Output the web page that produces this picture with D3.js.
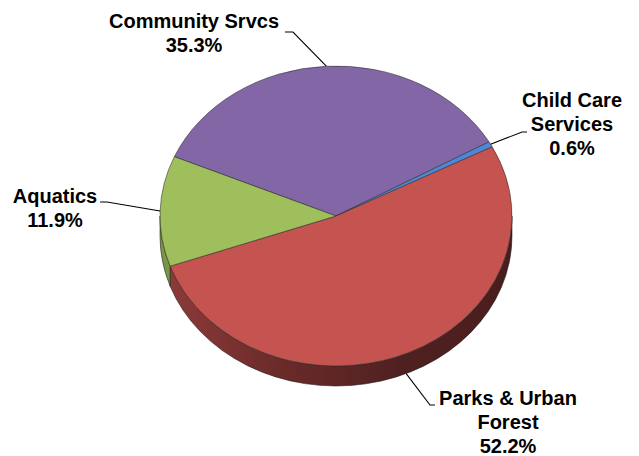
<!DOCTYPE html>
<html><head><meta charset="utf-8">
<script src="https://cdn.jsdelivr.net/npm/d3@7"></script>
<style>html,body{margin:0;padding:0;background:#fff}</style>
</head><body>
<svg id="c" width="639" height="456"></svg>
<script>
const categories = ["Community Srvcs", "Child Care Services", "Parks & Urban Forest", "Aquatics"];
const values = [35.3, 0.6, 52.2, 11.9];
const labelLines = [["Community Srvcs", "35.3%"], ["Child Care", "Services", "0.6%"], ["Parks & Urban", "Forest", "52.2%"], ["Aquatics", "11.9%"]];
const topColors = ["#8266A6", "#4F86D6", "#C5534F", "#9FBF5C"];

const W = 639, H = 456;
const cx = 336, cy = 216, rx = 176, ry = 150, depth = 20;
const k = ry / rx, dU = depth / k;
const startDeg = -66.7;

const svg = d3.select("#c");
const defs = svg.append("defs");
const gRed = defs.append("linearGradient").attr("id","sideRed").attr("gradientUnits","userSpaceOnUse")
  .attr("x1",-rx).attr("x2",rx).attr("y1",0).attr("y2",0);
gRed.append("stop").attr("offset","0").attr("stop-color","#8E3C3A");
gRed.append("stop").attr("offset","0.35").attr("stop-color","#6A2A29");
gRed.append("stop").attr("offset","0.7").attr("stop-color","#4F2020");
gRed.append("stop").attr("offset","1").attr("stop-color","#4A1D1D");
const gGreen = defs.append("linearGradient").attr("id","sideGreen").attr("gradientUnits","userSpaceOnUse")
  .attr("x1",-rx).attr("x2",rx).attr("y1",0).attr("y2",0);
gGreen.append("stop").attr("offset","0").attr("stop-color","#7A9844");
gGreen.append("stop").attr("offset","1").attr("stop-color","#4A5E28");
const sideFill = ["#5a4470", "#2f5285", "url(#sideRed)", "url(#sideGreen)"];

const pie = d3.pie().sort(null)
  .startAngle(startDeg * Math.PI/180).endAngle(startDeg * Math.PI/180 + 2*Math.PI);
const arcs = pie(values);
const arc = d3.arc().innerRadius(0).outerRadius(rx);

const g = svg.append("g").attr("transform", `translate(${cx},${cy}) scale(1,${k})`);

function pt(a, r, dy) { return [r*Math.sin(a), -r*Math.cos(a) + (dy||0)]; }
// sides: front half in d3 angles [PI/2, 3PI/2]
arcs.forEach((d, i) => {
  const a1 = Math.max(d.startAngle, Math.PI/2), a2 = Math.min(d.endAngle, 3*Math.PI/2);
  if (a2 <= a1) return;
  const p1 = pt(a1, rx), p2 = pt(a2, rx);
  const large = (a2 - a1) > Math.PI ? 1 : 0;
  const p = `M${p1[0]},${p1[1]} A${rx},${rx} 0 ${large} 1 ${p2[0]},${p2[1]} L${p2[0]},${p2[1]+dU} A${rx},${rx} 0 ${large} 0 ${p1[0]},${p1[1]+dU} Z`;
  g.append("path").attr("d", p).attr("fill", sideFill[i])
    .attr("stroke", "#1a1a1a").attr("stroke-width", 0.7).attr("stroke-opacity", 0.8)
    .attr("vector-effect", "non-scaling-stroke");
});
// tops
g.selectAll("path.top").data(arcs).enter().append("path").attr("class","top")
  .attr("d", arc).attr("fill", (d,i) => topColors[i])
  .attr("stroke", "#2a2a2a").attr("stroke-width", 0.7).attr("stroke-opacity", 0.8)
  .attr("vector-effect", "non-scaling-stroke");

// labels
const labelCfg = [
  {x: 194, y: 28, elbow: [293, 32], end: [285, 32], useDepth: false},
  {x: 572, y: 107, elbow: [522, 132], end: [527, 132], useDepth: false},
  {x: 508, y: 405, elbow: [430, 405], end: [435, 405], useDepth: true},
  {x: 55, y: 203, elbow: [107, 202], end: [100, 202], useDepth: false}
];
arcs.forEach((d, i) => {
  const m = (d.startAngle + d.endAngle) / 2;
  const c = labelCfg[i];
  const ax = cx + rx*Math.sin(m), ay = cy - ry*Math.cos(m) + (c.useDepth ? depth : 0);
  svg.append("polyline").attr("points", `${ax},${ay} ${c.elbow[0]},${c.elbow[1]} ${c.end[0]},${c.end[1]}`)
    .attr("fill","none").attr("stroke","#000").attr("stroke-width",1.1);
  const t = svg.append("text").attr("x", c.x).attr("y", c.y).attr("text-anchor","middle")
    .attr("font-family","'Liberation Sans', Arial, sans-serif").attr("font-weight","bold")
    .attr("font-size", 20).attr("fill","#000");
  labelLines[i].forEach((ln, j) => t.append("tspan").attr("x", c.x).attr("dy", j ? 24 : 0).text(ln));
});
</script>
</body></html>
